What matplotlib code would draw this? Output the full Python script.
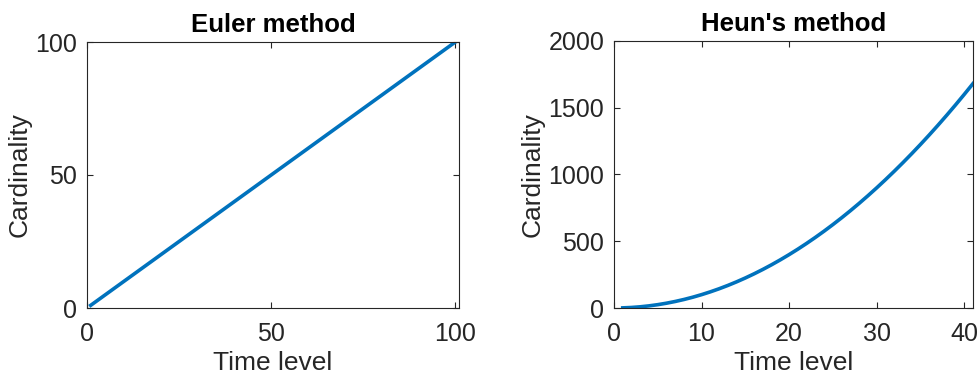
import matplotlib
matplotlib.use("Agg")
import matplotlib.pyplot as plt

# Euler method: cardinality grows by one per time level
euler_time = [1, 11, 21, 31, 41, 51, 61, 71, 81, 91, 101]
euler_card = [1, 11, 21, 31, 41, 51, 61, 71, 81, 91, 101]

# Heun's method: cardinality per time level
heun_time = list(range(1, 42))
heun_card = [1, 4, 9, 16, 25, 36, 49, 64, 81, 100,
             121, 144, 169, 196, 225, 256, 289, 324, 361, 400,
             441, 484, 529, 576, 625, 676, 729, 784, 841, 900,
             961, 1024, 1089, 1156, 1225, 1296, 1369, 1444, 1521, 1600,
             1681]

plt.rcParams['font.family'] = ['Liberation Sans', 'DejaVu Sans']
dark = '#262626'
line_color = '#0072BD'

fig = plt.figure(figsize=(9.8, 3.78), dpi=100)

ax1 = fig.add_axes([87 / 980, 1 - 308 / 378, 372 / 980, 266 / 378])
ax2 = fig.add_axes([614 / 980, 1 - 308 / 378, 359 / 980, 267 / 378])


def style_axes(ax):
    for s in ax.spines.values():
        s.set_color(dark)
        s.set_linewidth(0.8)
    ax.tick_params(direction='in', top=True, right=True, colors=dark,
                   labelsize=18, length=4, width=0.8)
    ax.tick_params(axis='x', pad=10)
    ax.tick_params(axis='y', pad=7)


ax1.plot(euler_time, euler_card, color=line_color, linewidth=2.6)
ax1.set_xlim(0, 101)
ax1.set_ylim(0, 100)
ax1.set_xticks([0, 50, 100])
ax1.set_yticks([0, 50, 100])
ax1.set_title("Euler method", fontsize=18.5, fontweight='bold', pad=7)
ax1.set_xlabel("Time level", fontsize=19, color=dark, labelpad=4)
ax1.set_ylabel("Cardinality", fontsize=19, color=dark, labelpad=3)
style_axes(ax1)

ax2.plot(heun_time, heun_card, color=line_color, linewidth=2.6)
ax2.set_xlim(0, 41)
ax2.set_ylim(0, 2000)
ax2.set_xticks([0, 10, 20, 30, 40])
ax2.set_yticks([0, 500, 1000, 1500, 2000])
ax2.set_title("Heun's method", fontsize=18.5, fontweight='bold', pad=7)
ax2.set_xlabel("Time level", fontsize=19, color=dark, labelpad=4)
ax2.set_ylabel("Cardinality", fontsize=19, color=dark, labelpad=3)
style_axes(ax2)

fig.savefig("out.png", dpi=100)
